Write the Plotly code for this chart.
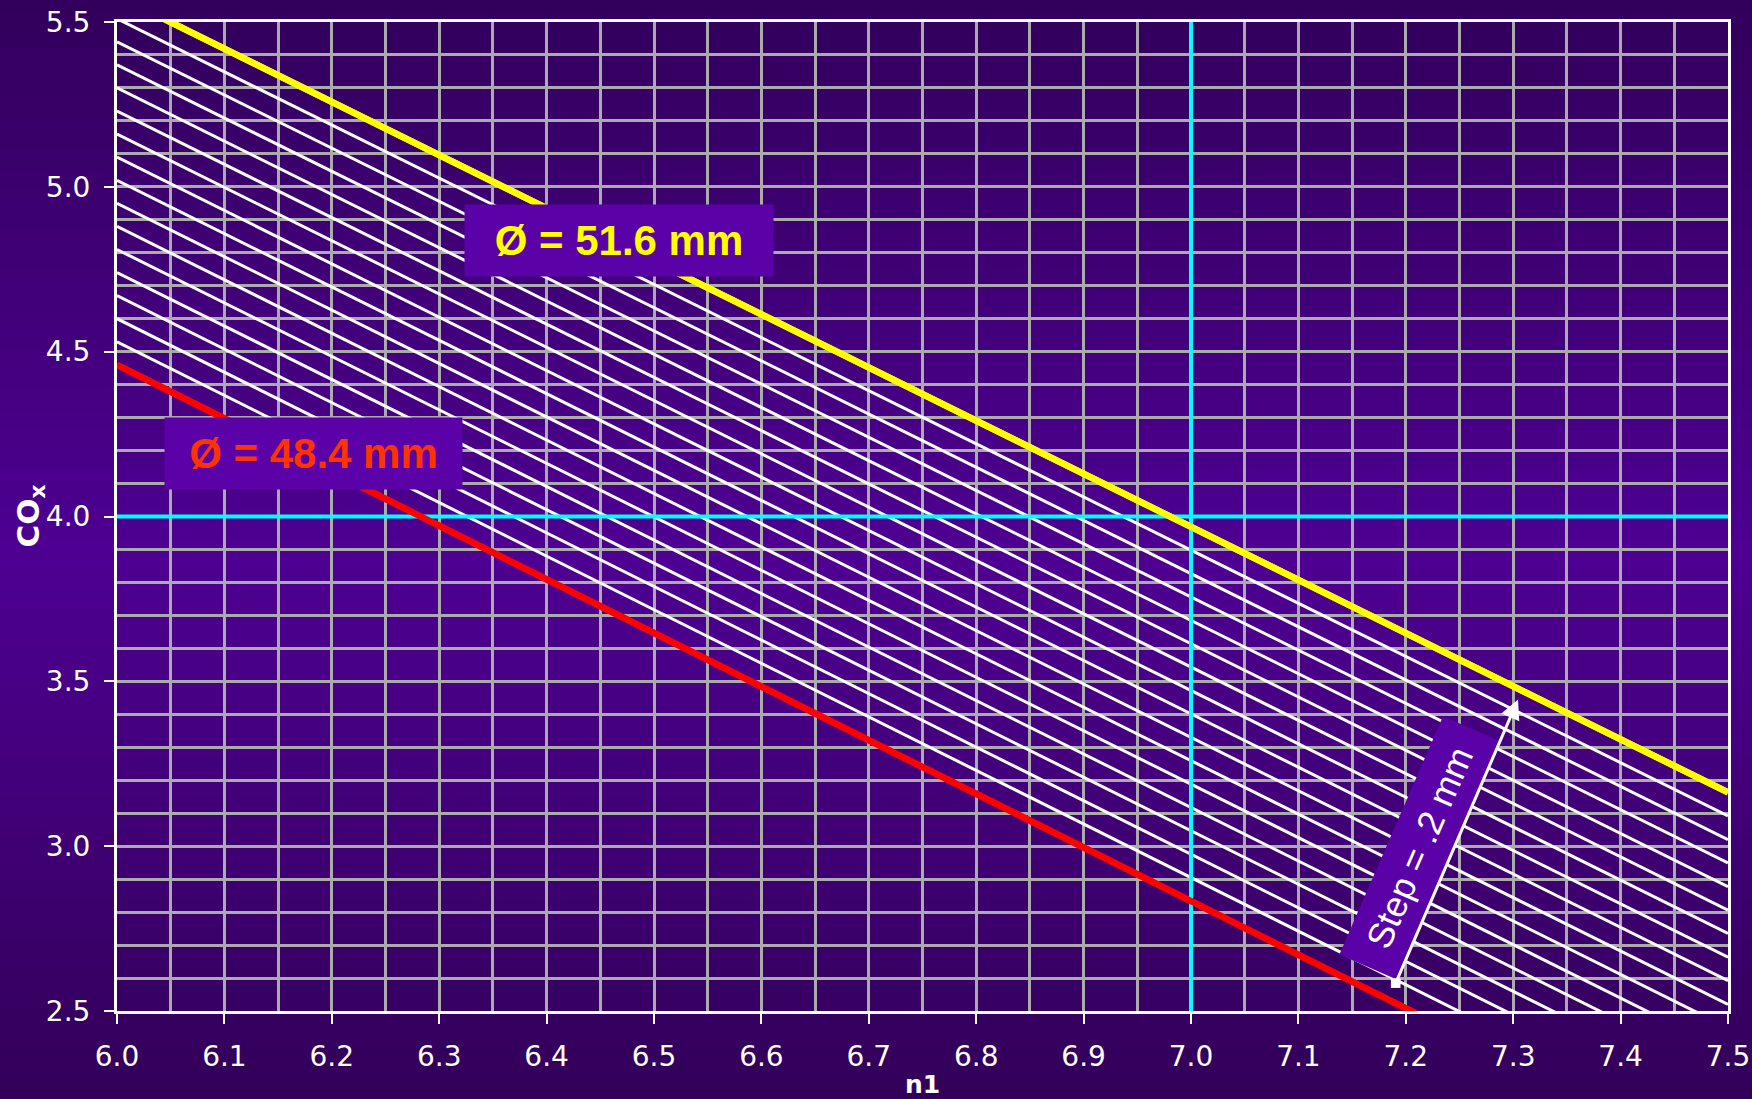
import plotly.graph_objects as go

# ---------------- data ----------------
diameters_mm = [48.4, 48.6, 48.8, 49.0, 49.2, 49.4, 49.6, 49.8, 50.0,
                50.2, 50.4, 50.6, 50.8, 51.0, 51.2, 51.4, 51.6]
n1_ends = [6.0, 7.5]
cox_at_n1_start = [4.460, 4.530, 4.600, 4.670, 4.740, 4.810, 4.880, 4.950, 5.020,
                   5.090, 5.160, 5.230, 5.300, 5.370, 5.440, 5.510, 5.580]
cox_at_n1_end = [2.020, 2.092, 2.163, 2.235, 2.306, 2.377, 2.449, 2.520, 2.592,
                 2.663, 2.735, 2.806, 2.877, 2.949, 3.020, 3.092, 3.163]
ref_n1 = 7.0
ref_cox = 4.0
x_range = [6.0, 7.5]
y_range = [2.5, 5.5]
label_small = "Ø = 48.4 mm"
label_large = "Ø = 51.6 mm"
label_step = "Step = .2 mm"
label_small_pos = (6.1825, 4.191)
label_large_pos = (6.467, 4.837)
label_step_pos = (7.213, 2.996)
arrow_tail = (7.19, 2.58)
arrow_tip = (7.3045, 3.445)

# ---------------- figure ----------------
W, H = 1752, 1099
L, R, T, B = 117, 24, 22, 88
plot_h = H - T - B
plot_w = W - L - R

fig = go.Figure()

# hatch lines (constant diameter)
for i, d in enumerate(diameters_mm):
    if i == 0:
        color, width = "#ff0000", 6.5
    elif i == len(diameters_mm) - 1:
        color, width = "#ffff00", 6.5
    else:
        color, width = "#ffffff", 3
    fig.add_trace(go.Scatter(
        x=n1_ends, y=[cox_at_n1_start[i], cox_at_n1_end[i]],
        mode="lines", line=dict(color=color, width=width),
        name=f"{d} mm", showlegend=False, hoverinfo="skip"))

# cyan reference lines
fig.add_trace(go.Scatter(x=[ref_n1, ref_n1], y=y_range, mode="lines",
                         line=dict(color="#00ffff", width=4), showlegend=False))
fig.add_trace(go.Scatter(x=x_range, y=[ref_cox, ref_cox], mode="lines",
                         line=dict(color="#00ffff", width=4), showlegend=False))
# redraw red / yellow on top of cyan
for i in (0, len(diameters_mm) - 1):
    fig.add_trace(go.Scatter(
        x=n1_ends, y=[cox_at_n1_start[i], cox_at_n1_end[i]], mode="lines",
        line=dict(color="#ff0000" if i == 0 else "#ffff00", width=6.5),
        showlegend=False, hoverinfo="skip"))

# background gradient (dark - bright - dark)
def px_to_paper_y(p):
    return (H - B - p) / plot_h

top_c = (50, 0, 92)
mid_c = (78, 0, 146)
bot_c = (50, 0, 88)
mid_p = 560
nb = 110
shapes = []
for k in range(nb):
    p0 = H * k / nb
    p1 = H * (k + 1) / nb
    pc = (p0 + p1) / 2
    if pc < mid_p:
        t = pc / mid_p
        c = [top_c[j] + (mid_c[j] - top_c[j]) * t for j in range(3)]
    else:
        t = (pc - mid_p) / (H - mid_p)
        c = [mid_c[j] + (bot_c[j] - mid_c[j]) * t for j in range(3)]
    shapes.append(dict(type="rect", xref="paper", yref="paper",
                       x0=-L / plot_w - 0.01, x1=1 + R / plot_w + 0.01,
                       y0=px_to_paper_y(p1 + 0.5), y1=px_to_paper_y(p0 - 0.5),
                       fillcolor="rgb(%d,%d,%d)" % tuple(int(round(v)) for v in c),
                       line=dict(width=0), layer="below"))

grid_c = "#ababab"
tick_font = dict(family="DejaVu Sans", size=28, color="white")
box_bg = "#5a02a8"

fig.update_layout(
    width=W, height=H,
    margin=dict(l=L, r=R, t=T, b=B, pad=0, autoexpand=False),
    paper_bgcolor="rgb(60,0,110)",
    plot_bgcolor="rgba(0,0,0,0)",
    shapes=shapes,
    showlegend=False,
    xaxis=dict(range=x_range, tick0=6.0, dtick=0.1, tickformat=".1f",
               automargin=False,
               showgrid=True, gridcolor=grid_c, gridwidth=2.5,
               minor=dict(dtick=0.05, showgrid=True, gridcolor=grid_c, gridwidth=2.5),
               showline=True, linecolor="white", linewidth=3, mirror=True,
               ticks="outside", ticklen=10, tickwidth=2, tickcolor="white",
               tickfont=tick_font, zeroline=False, ticklabelstandoff=8),
    yaxis=dict(range=y_range, tick0=2.5, dtick=0.5, tickformat=".1f",
               automargin=False,
               showgrid=True, gridcolor=grid_c, gridwidth=2.5,
               minor=dict(dtick=0.1, showgrid=True, gridcolor=grid_c, gridwidth=2.5),
               showline=True, linecolor="white", linewidth=3, mirror=True,
               ticks="outside", ticklen=10, tickwidth=2, tickcolor="white",
               tickfont=tick_font, zeroline=False, ticklabelstandoff=8),
)

annotations = [
    dict(x=label_large_pos[0], y=label_large_pos[1], xref="x", yref="y",
         text="<b>%s</b>" % label_large, showarrow=False,
         font=dict(family="Liberation Sans, Arial", size=42, color="#ffff00"),
         bgcolor=box_bg, borderpad=0, width=308, height=71,
         xanchor="center", yanchor="middle"),
    dict(x=label_small_pos[0], y=label_small_pos[1], xref="x", yref="y",
         text="<b>%s</b>" % label_small, showarrow=False,
         font=dict(family="Liberation Sans, Arial", size=42, color="#ff3300"),
         bgcolor=box_bg, borderpad=0, width=297, height=71,
         xanchor="center", yanchor="middle"),
    dict(x=label_step_pos[0], y=label_step_pos[1], xref="x", yref="y",
         text=label_step, showarrow=False, textangle=-66.5,
         font=dict(family="Liberation Sans, Arial", size=36, color="white"),
         bgcolor=box_bg, borderpad=0, width=259, height=61,
         xanchor="center", yanchor="middle"),
    dict(x=arrow_tip[0], y=arrow_tip[1], ax=arrow_tail[0], ay=arrow_tail[1],
         xref="x", yref="y", axref="x", ayref="y", text="", showarrow=True,
         arrowcolor="white", arrowwidth=3, arrowhead=2, arrowsize=1.3,
         arrowside="end+start", startarrowhead=7, startarrowsize=0.8),
    dict(x=0.5, y=(H - B - 1084) / plot_h, xref="paper", yref="paper",
         text="<b>n1</b>", showarrow=False,
         font=dict(family="DejaVu Sans", size=25, color="white"),
         xanchor="center", yanchor="middle"),
    dict(x=(30 - L) / plot_w, y=0.5, xref="paper", yref="paper",
         text="<b>CO<sub>x</sub></b>", showarrow=False, textangle=-90,
         font=dict(family="DejaVu Sans", size=31, color="white"),
         xanchor="center", yanchor="middle"),
]
fig.update_layout(annotations=annotations)

fig.write_html("out.html", config={"displayModeBar": False},
               post_script="document.body.style.margin='0';document.body.style.padding='0';document.body.style.overflow='hidden';")
